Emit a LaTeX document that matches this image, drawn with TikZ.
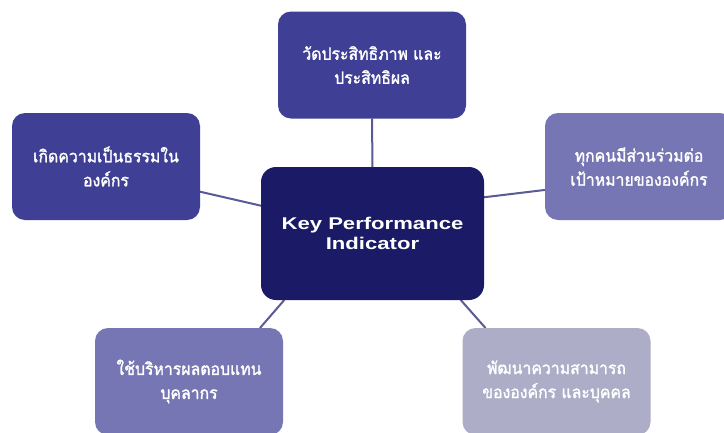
\documentclass[tikz,border=0pt]{standalone}
\usepackage{fontspec}
\usetikzlibrary{backgrounds}
\newfontfamily\thaifont[Script=Thai,FakeStretch=0.93,FakeBold=1.6]{Loma}
\newfontfamily\kpifont[FakeStretch=1.3]{Liberation Sans}
\definecolor{cmid}{RGB}{63,63,150}
\definecolor{cdark}{RGB}{26,26,102}
\definecolor{clight}{RGB}{118,118,180}
\definecolor{cpale}{RGB}{173,173,200}
\definecolor{cline}{RGB}{90,90,150}
\tikzset{
  box/.style={rectangle, rounded corners=13pt, minimum width=188pt, minimum height=107pt,
    inner sep=0pt, outer sep=0pt, text=white, align=center,
    font=\thaifont\fontsize{17}{24}\selectfont},
  hub/.style={rectangle, rounded corners=15pt, minimum width=223pt, minimum height=133pt,
    inner sep=0pt, outer sep=0pt, fill=cdark, text=white, align=center,
    font=\kpifont\bfseries\fontsize{17}{20}\selectfont},
  link/.style={draw=cline, line width=2pt}
}
\begin{document}
\begin{tikzpicture}[x=1pt,y=1pt]
\useasboundingbox (0,0) rectangle (724,-432);
\clip (0,0) rectangle (724,-432);
\node[hub] (C) at (372.5,-233.5) {Key Performance\\Indicator};
\node[box, fill=cmid] (T) at (372,-65) {วัดประสิทธิภาพ และ\\ประสิทธิผล};
\node[box, fill=cmid] (L) at (106,-166.5) {เกิดความเป็นธรรมใน\\องค์กร};
\node[box, fill=clight] (R) at (639,-166.5) {ทุกคนมีส่วนร่วมต่อ\\เป้าหมายขององค์กร};
\node[box, fill=clight] (BL) at (189,-381.5) {ใช้บริหารผลตอบแทน\\บุคลากร};
\node[box, fill=cpale] (BR) at (556.5,-381.5) {พัฒนาความสามารถ\\ขององค์กร และบุคคล};
\begin{scope}[on background layer]
\fill[white] (0,0) rectangle (724,-432);
\draw[link] (T.south) -- (C.north);
\draw[link] (L.-15.7) -- (C.166.5);
\draw[link] (C.18) -- (R.-166.4);
\draw[link] (C.-143.4) -- (BL.37.8);
\draw[link] (C.-37.2) -- (BR.143.2);
\end{scope}
\end{tikzpicture}
\end{document}
